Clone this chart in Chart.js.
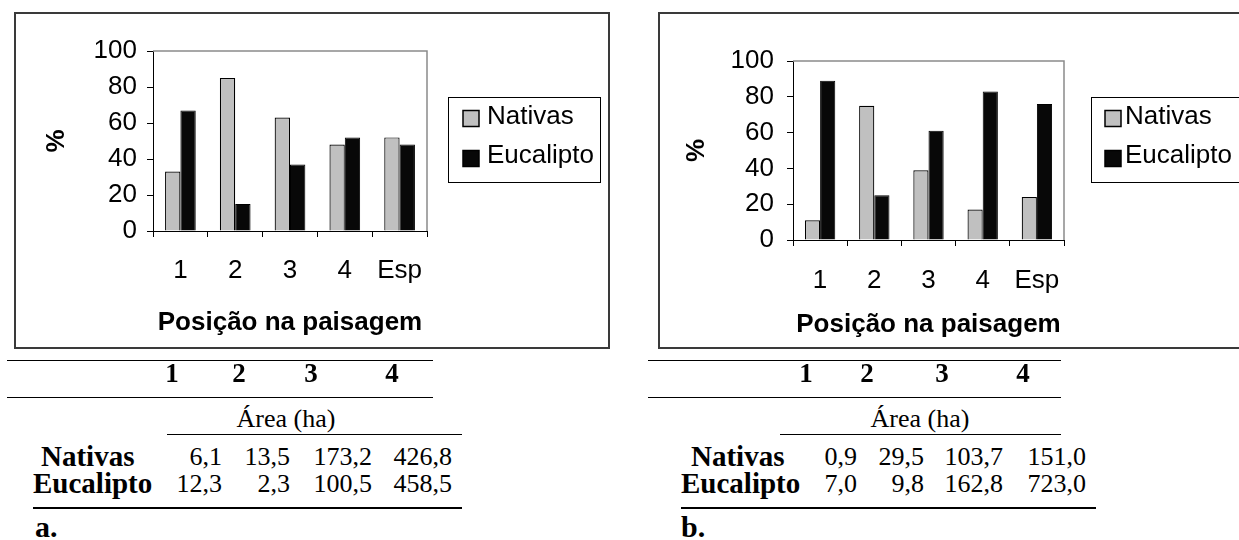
<!DOCTYPE html>
<html>
<head>
<meta charset="utf-8">
<script src="https://cdn.jsdelivr.net/npm/chart.js@4.4.1/dist/chart.umd.min.js"></script>
<style>
  html, body { margin: 0; padding: 0; background: #fff; }
  body { width: 1239px; height: 540px; position: relative; overflow: hidden; }
  .wrap { position: absolute; top: 0; }
  .t { position: absolute; white-space: nowrap; font-family: 'Liberation Serif', 'Times New Roman', serif; color: #000; line-height: 1; }
  .rule { position: absolute; background: #000; }
</style>
</head>
<body>
<div class="wrap" style="left:0px"><canvas id="chartA" width="620" height="360"></canvas></div>
<div class="wrap" style="left:620px"><canvas id="chartB" width="619" height="360"></canvas></div>
<div id="tables"></div>
<script>
// ---- data ----
const categories = ['1', '2', '3', '4', 'Esp'];
const seriesNames = ['Nativas', 'Eucalipto'];
const yTickValues = [0, 20, 40, 60, 80, 100];

// panel a: share (%) by landscape position
const nativasA = [33, 85, 63, 48, 52];
const eucaliptoA = [67, 15, 37, 52, 48];

// panel b
const nativasB = [11, 75, 39, 17, 24];
const eucaliptoB = [89, 25, 61, 83, 76];

// area tables (ha)
const tableCols = ['1', '2', '3', '4'];
const areaNativasA = [6.1, 13.5, 173.2, 426.8];
const areaEucaliptoA = [12.3, 2.3, 100.5, 458.5];
const areaNativasB = [0.9, 29.5, 103.7, 151.0];
const areaEucaliptoB = [7.0, 9.8, 162.8, 723.0];

// ---- chart drawing ----
const SANS = "'Liberation Sans', Arial, sans-serif";
const fmt = v => v.toFixed(1).replace('.', ',');

// outer frame of the panel plus the grey top/right edges of the plot area
const panelFrame = {
  id: 'panelFrame',
  beforeDraw(chart, args, o) {
    const ctx = chart.ctx;
    ctx.save();
    ctx.strokeStyle = '#3a3a3a';
    ctx.lineWidth = 2;
    ctx.strokeRect(o.left, o.top, o.right - o.left, o.bottom - o.top);
    ctx.restore();
  },
  afterDatasetsDraw(chart) {
    const { left, right, top, bottom } = chart.chartArea;
    const ctx = chart.ctx;
    ctx.save();
    ctx.strokeStyle = '#8a8a8a';
    ctx.lineWidth = 1.5;
    ctx.beginPath();
    ctx.moveTo(left, top);
    ctx.lineTo(right, top);
    ctx.lineTo(right, bottom);
    ctx.stroke();
    ctx.restore();
  }
};

// boxed legend with square swatches
const boxLegend = {
  id: 'boxLegend',
  afterDraw(chart, args, o) {
    const ctx = chart.ctx;
    ctx.save();
    ctx.fillStyle = '#fff';
    ctx.fillRect(o.x, o.y, o.w, o.h);
    ctx.strokeStyle = '#000';
    ctx.lineWidth = 1;
    ctx.strokeRect(o.x + 0.5, o.y + 0.5, o.w, o.h);
    ctx.font = '26px ' + SANS;
    ctx.textBaseline = 'middle';
    ctx.textAlign = 'left';
    chart.data.datasets.forEach((ds, i) => {
      const cy = o.rows[i];
      ctx.fillStyle = ds.backgroundColor;
      ctx.fillRect(o.swatchX, cy - o.swatch / 2, o.swatch, o.swatch);
      ctx.strokeStyle = '#000';
      ctx.lineWidth = 1.5;
      ctx.strokeRect(o.swatchX, cy - o.swatch / 2, o.swatch, o.swatch);
      ctx.fillStyle = '#000';
      ctx.fillText(ds.label, o.textX, o.textRows[i]);
    });
    ctx.restore();
  }
};

function makeChart(id, nat, euc, g) {
  return new Chart(document.getElementById(id), {
    type: 'bar',
    data: {
      labels: categories,
      datasets: [
        { label: seriesNames[0], data: nat, backgroundColor: '#c0c0c0', borderColor: '#000', borderWidth: 1.2 },
        { label: seriesNames[1], data: euc, backgroundColor: '#080808', borderColor: '#000', borderWidth: 1 }
      ]
    },
    options: {
      responsive: false,
      animation: false,
      events: [],
      layout: { padding: { left: g.padLeft, top: g.plotTop, right: g.padRight, bottom: g.padBottom } },
      datasets: { bar: { categoryPercentage: 0.56, barPercentage: 1.0 } },
      scales: {
        x: {
          offset: true,
          grid: { offset: true, drawOnChartArea: false, drawTicks: true, tickLength: 6, color: '#000' },
          border: { display: true, color: '#000', width: 1 },
          ticks: { color: '#000', font: { family: SANS, size: 26 }, padding: g.xTickPad, maxRotation: 0 },
          title: { display: true, text: 'Posição na paisagem', color: '#000',
                   font: { family: SANS, size: 26, weight: 'bold' }, padding: { top: 0, bottom: g.xTitlePad } },
          afterFit: s => { s.height = g.xHeight; }
        },
        y: {
          min: 0, max: 100,
          afterBuildTicks: s => { s.ticks = yTickValues.map(v => ({ value: v })); },
          grid: { drawOnChartArea: false, drawTicks: true, tickLength: 6, color: '#000' },
          border: { display: true, color: '#000', width: 1 },
          ticks: { color: '#000', font: { family: SANS, size: 26 }, padding: g.yTickPad },
          title: { display: true, text: '%', color: '#000',
                   font: { family: SANS, size: 26, weight: 'bold' }, padding: { top: g.yTitlePad, bottom: 0 } },
          afterFit: s => { s.width = g.yWidth; }
        }
      },
      plugins: {
        legend: { display: false },
        tooltip: { enabled: false },
        panelFrame: g.frame,
        boxLegend: g.legend
      }
    },
    plugins: [panelFrame, boxLegend]
  });
}

makeChart('chartA', nativasA, eucaliptoA, {
  padLeft: 20, yWidth: 133, plotTop: 51, padRight: 193,
  xHeight: 110, padBottom: 19, xTickPad: 18, xTitlePad: 3,
  yTickPad: 10, yTitlePad: 21,
  frame: { left: 15, top: 13, right: 609, bottom: 348 },
  legend: { x: 448, y: 97, w: 152, h: 85, swatch: 16, swatchX: 463, textX: 487,
            rows: [118.5, 158.5], textRows: [117, 156] }
});

makeChart('chartB', nativasB, eucaliptoB, {
  padLeft: 20, yWidth: 153, plotTop: 61, padRight: 175,
  xHeight: 110, padBottom: 10, xTickPad: 19, xTitlePad: 10,
  yTickPad: 13, yTitlePad: 41,
  frame: { left: 39, top: 13, right: 660, bottom: 348 },
  legend: { x: 471, y: 97, w: 170, h: 85, swatch: 16, swatchX: 485, textX: 505,
            rows: [118.5, 158.5], textRows: [117, 156] }
});

// ---- area tables ----
const host = document.getElementById('tables');
function txt(str, x, baseline, size, bold, align) {
  const d = document.createElement('div');
  d.className = 't';
  d.textContent = str;
  d.style.fontSize = size + 'px';
  d.style.fontWeight = bold ? '700' : '400';
  d.style.top = (baseline - 0.8375 * size) + 'px';
  d.style.left = x + 'px';
  if (align === 'center') d.style.transform = 'translateX(-50%)';
  if (align === 'right') d.style.transform = 'translateX(-100%)';
  host.appendChild(d);
}
function rule(x1, x2, y, h) {
  const d = document.createElement('div');
  d.className = 'rule';
  d.style.left = x1 + 'px';
  d.style.width = (x2 - x1) + 'px';
  d.style.top = y + 'px';
  d.style.height = h + 'px';
  host.appendChild(d);
}
function areaTable(nat, euc, L) {
  rule(L.ruleLeft, L.ruleRight, 360, 1);
  tableCols.forEach((c, i) => txt(c, L.headX[i], 383, 27, true, 'center'));
  rule(L.ruleLeft, L.ruleRight, 397, 1);
  txt('Área (ha)', L.areaX, 428, 26, false, 'center');
  rule(L.areaLeft, L.areaRight, 434, 1);
  txt(seriesNames[0], L.natLabelX, 466, 29, true, 'left');
  nat.forEach((v, i) => txt(fmt(v), L.valRight[i], 466, 26, false, 'right'));
  txt(seriesNames[1], L.eucLabelX, 493, 29, true, 'left');
  euc.forEach((v, i) => txt(fmt(v), L.valRight[i], 493, 26, false, 'right'));
  rule(L.bottomLeft, L.areaRight + (L.bottomExtra || 0), 507, 2);
  txt(L.tag, L.tagX, 537, 30, true, 'left');
}
areaTable(areaNativasA, areaEucaliptoA, {
  ruleLeft: 7, ruleRight: 433, headX: [172, 239, 311, 392], areaX: 286,
  areaLeft: 167, areaRight: 462, natLabelX: 41, eucLabelX: 33,
  valRight: [222, 290, 372, 452], bottomLeft: 33, tag: 'a.', tagX: 35
});
areaTable(areaNativasB, areaEucaliptoB, {
  ruleLeft: 648, ruleRight: 1061, headX: [806, 867, 942, 1023], areaX: 920,
  areaLeft: 780, areaRight: 1061, natLabelX: 691, eucLabelX: 681,
  valRight: [857, 924, 1003, 1086], bottomLeft: 681, bottomExtra: 35, tag: 'b.', tagX: 681
});
</script>
</body>
</html>
